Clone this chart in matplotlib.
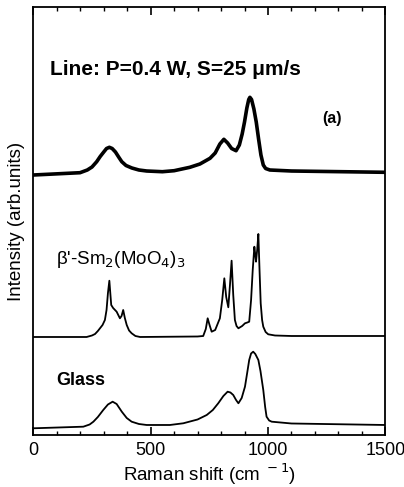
import matplotlib
matplotlib.use("Agg")
import matplotlib.pyplot as plt
from matplotlib.ticker import MultipleLocator

# Line-scanned sample (top), beta'-Sm2(MoO4)3 crystal (middle), glass (bottom)
line_x = [0, 199, 230, 250, 270, 285, 300, 312, 324, 336, 350, 365, 377, 395, 420, 450, 483,
          550, 600, 667, 710, 753, 775, 795, 812, 828, 845, 864, 878, 890, 900, 910, 918,
          923, 930, 940, 950, 960, 970, 980, 990, 1008, 1100, 1500]
line_y = [260, 262.3, 265, 268, 273.3, 278.5, 283, 286.5, 287.7, 286.5, 283, 277.5, 273.3,
          269.5, 267, 265, 264, 263.3, 264.3, 267.7, 271, 276.7, 282, 291, 295.7, 292, 286.5,
          284.3, 290, 301, 313, 327, 335.5, 337.7, 335.5, 326, 313, 296, 280, 270, 266.5,
          265, 264, 262.7]

beta_x = [0, 200, 227, 250, 263, 275, 284, 295, 305, 312, 318, 324, 328, 332, 340, 355,
          362, 369, 376, 383, 390, 398, 408, 419, 435, 455, 700, 724, 735, 743, 751, 760,
          775, 795, 805, 814, 822, 831, 838, 845, 852, 859, 866, 874, 890, 902, 912, 920,
          928, 935, 942, 946, 949, 954, 959, 964, 969, 975, 980, 990, 1001, 1030, 1100, 1500]
beta_y = [98, 98, 98, 99.5, 101, 104, 106.7, 110, 115, 125, 142, 154.3, 142, 130, 127,
          123.3, 120, 116.7, 119, 125, 117, 110, 104.5, 101.7, 99, 98, 98.5, 99, 106, 116.7,
          110, 103.3, 105, 116.7, 135, 156.7, 138, 127.7, 150, 174.3, 140, 115, 109, 106.7,
          109, 111.7, 112.5, 113.3, 135, 165, 188.3, 180, 173.3, 185, 201, 165, 131.7, 115,
          108.3, 103, 100.7, 99.5, 99, 99]

glass_x = [0, 213, 240, 256, 275, 298, 318, 338, 355, 377, 398, 419, 450, 483, 582, 639,
           700, 739, 765, 788, 810, 828, 840, 852, 864, 874, 888, 902, 912, 920, 928, 937,
           946, 959, 968, 980, 988, 994, 1005, 1016, 1100, 1500]
glass_y = [6.7, 8.3, 10.5, 13.3, 18, 25, 30.5, 33.3, 31, 23.3, 17, 13.3, 11, 10, 10, 11.7,
           15.5, 20, 25, 31.7, 39, 43.3, 42.5, 40, 35, 31.7, 37, 48.3, 63, 75, 81.5, 83.3,
           81, 75, 64, 45, 28, 18.3, 14.5, 13.3, 11.5, 10]

xticks = [0, 500, 1000, 1500]
xtick_labels = ["0", "500", "1000", "1500"]

plt.rcParams['font.family'] = ['Liberation Sans', 'DejaVu Sans']

fig = plt.figure(figsize=(4.04, 4.87), dpi=100)
ax = fig.add_axes([0.0825, 0.1068, 0.8712, 0.8788])

ax.plot(line_x, line_y, color='black', lw=2.6, solid_joinstyle='round')
ax.plot(beta_x, beta_y, color='black', lw=1.3, solid_joinstyle='round')
ax.plot(glass_x, glass_y, color='black', lw=1.3, solid_joinstyle='round')

ax.set_xlim(0, 1500)
ax.set_ylim(0, 428)
ax.set_xticks(xticks)
ax.set_xticklabels(xtick_labels, fontsize=13)
ax.xaxis.set_minor_locator(MultipleLocator(100))
ax.set_yticks([])
ax.tick_params(axis='x', which='both', direction='in', top=True, bottom=True, pad=5)
ax.tick_params(axis='x', which='major', length=6, width=1.2)
ax.tick_params(axis='x', which='minor', length=3, width=1.0)
for s in ax.spines.values():
    s.set_linewidth(1.3)

ax.set_xlabel("Raman shift (cm$^{\\ -1}$)", fontsize=13.5, labelpad=2)
ax.set_ylabel("Intensity (arb.units)", fontsize=13.5, labelpad=6)

ax.text(0.047, 0.855, "Line: P=0.4 W, S=25 \u03bcm/s", transform=ax.transAxes,
        fontsize=15, fontweight='bold', va='center', ha='left')
ax.text(0.82, 0.74, "(a)", transform=ax.transAxes, fontsize=11.5, fontweight='bold',
        va='center', ha='left')
ax.text(0.065, 0.409, "\u03b2'-Sm$_2$(MoO$_4$)$_3$", transform=ax.transAxes,
        fontsize=13.5, va='center', ha='left')
ax.text(0.065, 0.128, "Glass", transform=ax.transAxes, fontsize=13,
        fontweight='bold', va='center', ha='left')

fig.savefig("out.png", dpi=100)
